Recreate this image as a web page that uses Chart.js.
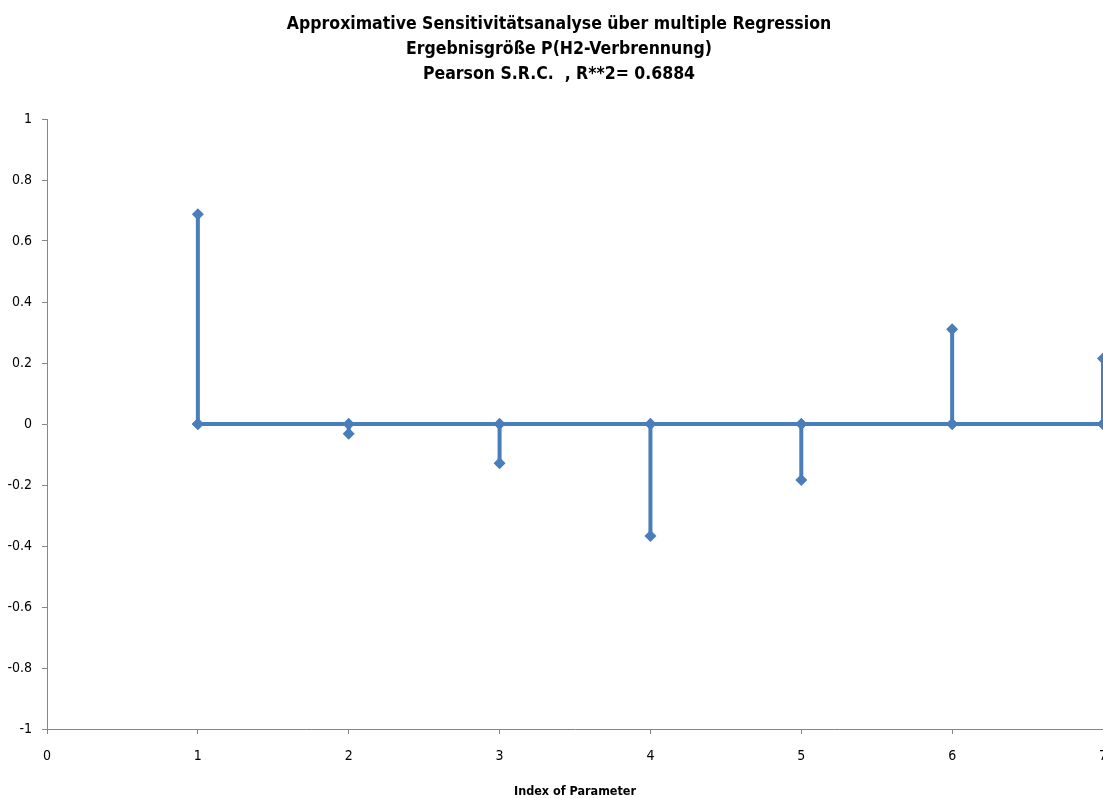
<!DOCTYPE html>
<html>
<head>
<meta charset="utf-8">
<script src="https://cdn.jsdelivr.net/npm/chart.js@4/dist/chart.umd.min.js"></script>
<style>
  html, body { margin: 0; padding: 0; background: #fff; overflow: hidden; }
  #wrap { position: relative; width: 1118px; height: 798px; }
</style>
</head>
<body>
<div id="wrap"><canvas id="c" width="1118" height="798"></canvas></div>
<script>
// Parameter indices and their standardized regression coefficients
const paramIndex = [1, 2, 3, 4, 5, 6, 7];
const src = [0.688, -0.032, -0.129, -0.367, -0.184, 0.311, 0.215];

const xTicks = [0, 1, 2, 3, 4, 5, 6, 7];
const yTicks = [-1, -0.8, -0.6, -0.4, -0.2, 0, 0.2, 0.4, 0.6, 0.8, 1];

const titleLines = [
  'Approximative Sensitivitätsanalyse über multiple Regression',
  'Ergebnisgröße P(H2-Verbrennung)',
  'Pearson S.R.C.  , R**2= 0.6884'
];
const xAxisTitle = 'Index of Parameter';

const FONT = '"Liberation Sans Narrow", "DejaVu Sans Condensed", "Liberation Sans", sans-serif';
const BLUE = '#4a7ebb';
const AXIS = '#868686';

// Stem path: baseline -> coefficient -> baseline for each parameter
const stemPoints = [];
paramIndex.forEach((p, i) => {
  stemPoints.push({ x: p, y: 0 });
  stemPoints.push({ x: p, y: src[i] });
  stemPoints.push({ x: p, y: 0 });
});

new Chart(document.getElementById('c'), {
  type: 'scatter',
  data: {
    datasets: [{
      data: stemPoints,
      showLine: true,
      borderColor: BLUE,
      backgroundColor: BLUE,
      borderWidth: 4,
      pointStyle: 'rectRot',
      pointRadius: 6,
      pointBorderWidth: 0,
      pointBackgroundColor: BLUE,
      clip: false
    }]
  },
  options: {
    responsive: false,
    animation: false,
    layout: { padding: 0 },
    plugins: {
      legend: { display: false },
      tooltip: { enabled: false },
      title: {
        display: true,
        text: titleLines,
        color: '#000',
        font: { family: FONT, size: 17.5, weight: 'bold', lineHeight: 25 / 17.5 },
        padding: { top: 12, bottom: 32 }
      }
    },
    scales: {
      x: {
        type: 'linear',
        min: 0, max: 7,
        afterBuildTicks: s => { s.ticks = xTicks.map(v => ({ value: v })); },
        afterFit: s => { s.height = 69; s.paddingLeft = 0; s.paddingRight = 15; },
        grid: { display: true, drawOnChartArea: false, drawTicks: true, tickLength: 5, color: AXIS, lineWidth: 1 },
        border: { display: true, color: AXIS, width: 1 },
        ticks: { color: '#000', padding: 14, maxRotation: 0, font: { family: FONT, size: 14 }, callback: v => String(v) },
        title: {
          display: true,
          text: xAxisTitle,
          color: '#000',
          font: { family: FONT, size: 12.5, weight: 'bold', lineHeight: 1 },
          padding: { top: 0, bottom: 0 }
        }
      },
      y: {
        type: 'linear',
        min: -1, max: 1,
        afterBuildTicks: s => { s.ticks = yTicks.map(v => ({ value: v })); },
        afterFit: s => { s.width = 47; },
        grid: { display: true, drawOnChartArea: false, drawTicks: true, tickLength: 5, color: AXIS, lineWidth: 1 },
        border: { display: true, color: AXIS, width: 1 },
        ticks: { color: '#000', padding: 10, font: { family: FONT, size: 14 }, callback: v => String(Number(v.toFixed(1))) }
      }
    }
  }
});
</script>
</body>
</html>
